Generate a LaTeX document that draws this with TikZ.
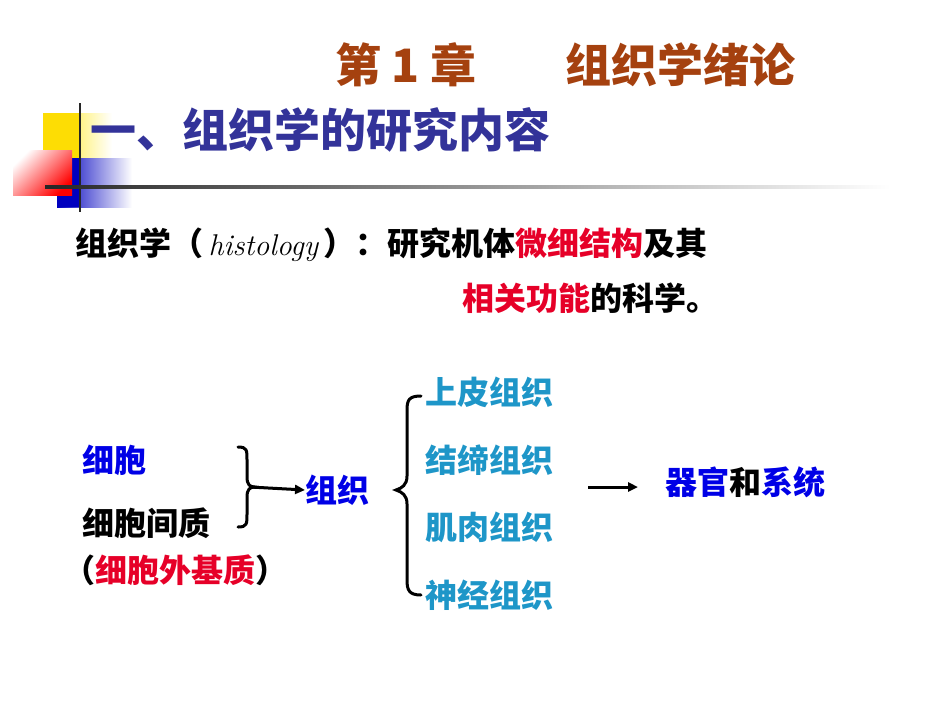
\documentclass[tikz,border=0pt]{standalone}
\usepackage{fontspec}
\newfontfamily\cjk{Noto Sans CJK SC}
\usetikzlibrary{arrows.meta}
\definecolor{brn}{RGB}{165,65,15}
\definecolor{hblue}{RGB}{51,51,153}
\definecolor{tblue}{RGB}{0,0,230}
\definecolor{tred}{RGB}{230,0,40}
\definecolor{tcyan}{RGB}{30,150,200}
\begin{document}
\begin{tikzpicture}[x=1pt,y=-1pt,
  txt/.style={inner sep=0pt,anchor=west,font=\cjk\bfseries\fontsize{32}{34}\selectfont},
  br/.style={line width=3pt,line cap=round},
  arr/.style={line width=3pt,-{Triangle[length=10pt,width=9pt]}}]
\useasboundingbox (0,0) rectangle (950,713);
% decorations
\shade[left color=yellow!80!orange, right color=white] (43,113) rectangle (112,160);
\fill[yellow!80!orange] (43,113) rectangle (80,160);
\shade[left color=blue!75!black, right color=white] (57,158) rectangle (132,207);
\fill[blue!75!black] (57,158) rectangle (80,207);
\shade[left color=white, right color=red, shading angle=45] (13,150) rectangle (72,195);
\draw[line width=2pt,black!85] (80,103) -- (80,212);
\shade[left color=black!85,right color=white] (45,185.5) rectangle (890,188.5);
% titles
\node[txt,font=\cjk\bfseries\fontsize{46}{48}\selectfont,text=brn] (t1) at (335,65) {第 1 章};
\node[txt,font=\cjk\bfseries\fontsize{46}{48}\selectfont,text=brn] (t2) at (565,65) {组织学绪论};
\node[txt,font=\cjk\bfseries\fontsize{46}{48}\selectfont,text=hblue] (h) at (90,130) {一、组织学的研究内容};
% definition
\node[txt] (d1) at (75,245) {组织学（\,{\rmfamily\mdseries\itshape\fontsize{30}{32}\selectfont histology}\,）：研究机体\textcolor{tred}{微细结构}及其};
\node[txt] (d2) at (462,298) {\textcolor{tred}{相关功能}的科学。};
% diagram
\node[txt,text=tblue] (c) at (82,460) {细胞};
\node[txt] (m) at (82,523) {细胞间质};
\node[txt] (e) at (63,570) {（\textcolor{tred}{细胞外基质}）};
\draw[br] (238,447) .. controls (247,447) and (247,450) .. (247,460) -- (247,477) .. controls (247,485) and (250,487) .. (255,487)
  .. controls (250,487) and (247,489) .. (247,497) -- (247,514) .. controls (247,524) and (247,527) .. (238,527);
\coordinate (bt) at (250,487);
\node[txt,text=tblue] (z) at (305,490) {组织};
\draw[arr] (bt) -- (z.west);
\draw[br] (421,396) .. controls (409,396) and (407,400) .. (407,410) -- (407,476) .. controls (407,485) and (402,488) .. (396,490)
  .. controls (402,492) and (407,495) .. (407,504) -- (407,580) .. controls (407,590) and (409,595) .. (421,595);
\node[txt,text=tcyan] (a1) at (425,392) {上皮组织};
\node[txt,text=tcyan] (a2) at (425,460) {结缔组织};
\node[txt,text=tcyan] (a3) at (425,527) {肌肉组织};
\node[txt,text=tcyan] (a4) at (425,595) {神经组织};
\coordinate (s) at (588,487);
\node[txt] (o) at (665,482) {\textcolor{tblue}{器官}和\textcolor{tblue}{系统}};
\draw[arr] (s) -- (638,487);
\end{tikzpicture}
\end{document}
